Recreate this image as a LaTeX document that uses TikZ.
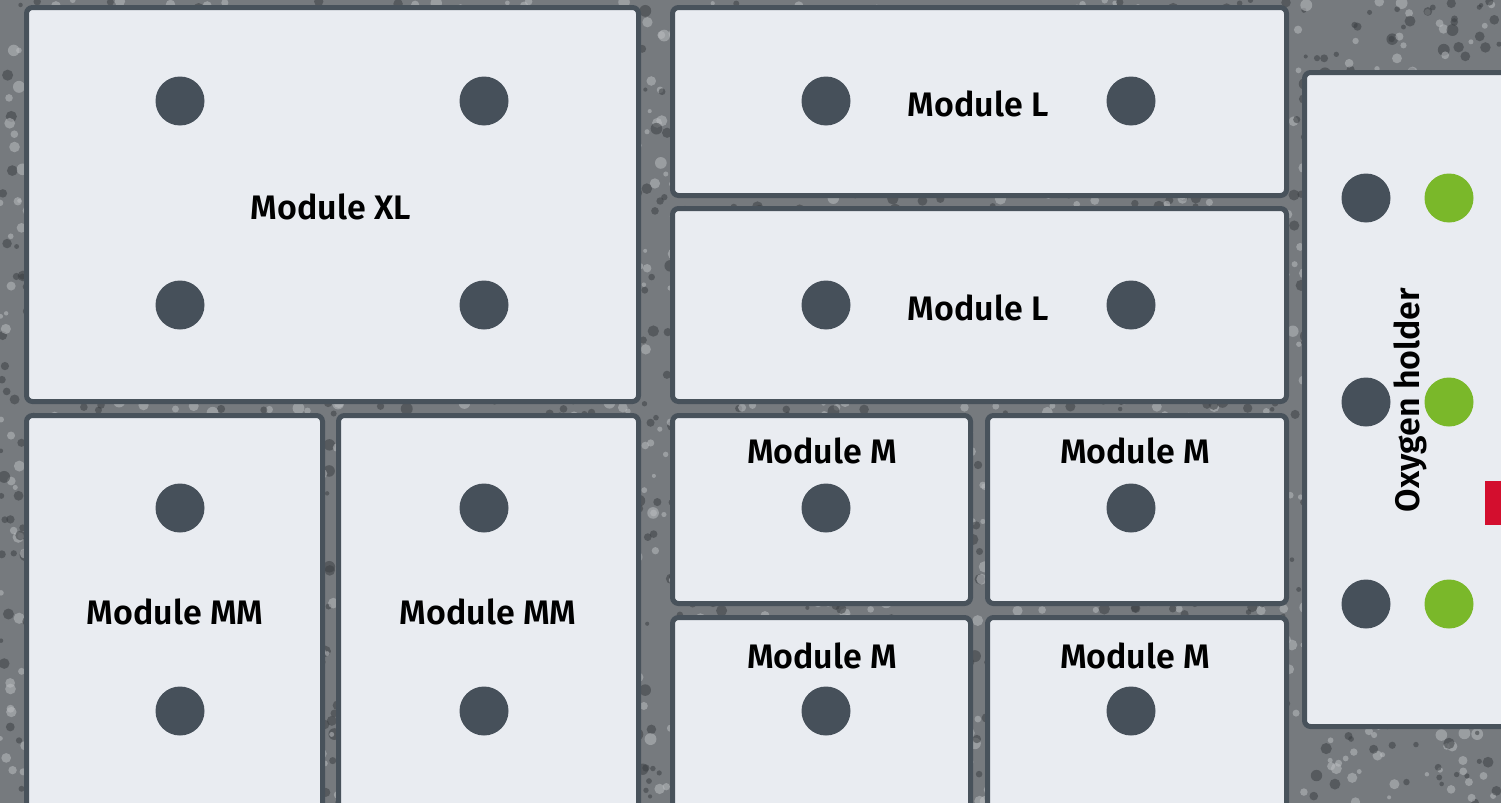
\documentclass[tikz,border=0pt]{standalone}
\usepackage{fontspec}
\setmainfont{Fira Sans}[BoldFont={Fira Sans SemiBold}]
\definecolor{stonebase}{RGB}{118,122,126}
\definecolor{stonedark}{RGB}{60,64,68}
\definecolor{stonelight}{RGB}{185,188,191}
\definecolor{modfill}{RGB}{233,236,241}
\definecolor{modborder}{RGB}{72,82,91}
\definecolor{boltgray}{RGB}{70,80,90}
\definecolor{oxygreen}{RGB}{122,184,42}
\definecolor{markred}{RGB}{211,14,46}
\tikzset{
  module box/.style={
    draw=modborder,
    fill=modfill,
    line width=2.5pt,
    rounded corners=3pt,
  },
  module label/.style={
    font=\bfseries\fontsize{17}{19}\selectfont,
    text=black,
    inner sep=0pt,
  },
  bolt/.style={
    circle,
    fill=boltgray,
    minimum size=24.5pt,
    inner sep=0pt,
  },
  oxy bolt/.style={
    bolt,
    fill=oxygreen,
  },
}

\begin{document}
\begin{tikzpicture}[x=0.5pt,y=-0.5pt]
  \useasboundingbox (0,0) rectangle (1501,803);
  \clip (0,0) rectangle (1501,803);
  % stone floor
  \fill[stonebase] (0,0) rectangle (1501,803);
  \pgfmathsetseed{42}
  \foreach \i in {1,...,1800}{
    \pgfmathsetmacro{\sx}{rnd*1501}
    \pgfmathsetmacro{\sy}{rnd*803}
    \pgfmathsetmacro{\sr}{2+rnd*4}
    \fill[stonedark, opacity=0.55] (\sx,\sy) circle[radius=\sr];
    \pgfmathsetmacro{\sx}{rnd*1501}
    \pgfmathsetmacro{\sy}{rnd*803}
    \fill[stonelight, opacity=0.55] (\sx,\sy) circle[radius=\sr];
  }

  % modules
  \draw[module box] (26.5,7.5) rectangle (638.5,401.5);
  \draw[module box] (672.5,7.5) rectangle (1286.5,195.5);
  \draw[module box] (672.5,208.5) rectangle (1286.5,401.5);
  \draw[module box] (26.5,415.5) rectangle (322.5,812);
  \draw[module box] (338.5,415.5) rectangle (638.5,812);
  \draw[module box] (672.5,415.5) rectangle (970.5,603.5);
  \draw[module box] (987.5,415.5) rectangle (1286.5,603.5);
  \draw[module box] (672.5,617.5) rectangle (970.5,812);
  \draw[module box] (987.5,617.5) rectangle (1286.5,812);
  \draw[module box] (1304.5,72.5) rectangle (1512,726.5);

  % labels
  \node[module label] (xl) at (331,207) {Module XL};
  \node[module label] (la) at (978,104) {Module L};
  \node[module label] (lb) at (978,308) {Module L};
  \node[module label] (mma) at (175,612) {Module MM};
  \node[module label] (mmb) at (488,612) {Module MM};
  \node[module label] (ma) at (822,451) {Module M};
  \node[module label] (mb) at (1135,451) {Module M};
  \node[module label] (mc) at (822,656) {Module M};
  \node[module label] (md) at (1135,656) {Module M};

  % bolts
  \foreach \bx/\by in {180/101, 484/101, 180/305, 484/305,
                       826/101, 1131/101, 826/305, 1131/305,
                       180/508, 180/711, 484/508, 484/711,
                       826/508, 1131/508, 826/711, 1131/711,
                       1366/198, 1366/402, 1366/604}
    \node[bolt] at (\bx,\by) {};
  \foreach \by in {198, 402, 604}
    \node[oxy bolt] at (1449,\by) {};

  % oxygen holder
  \node[module label, rotate=90] (oxy) at (1410,400) {Oxygen holder};
  \fill[markred] (1485,481) rectangle (1501,525);
\end{tikzpicture}
\end{document}
